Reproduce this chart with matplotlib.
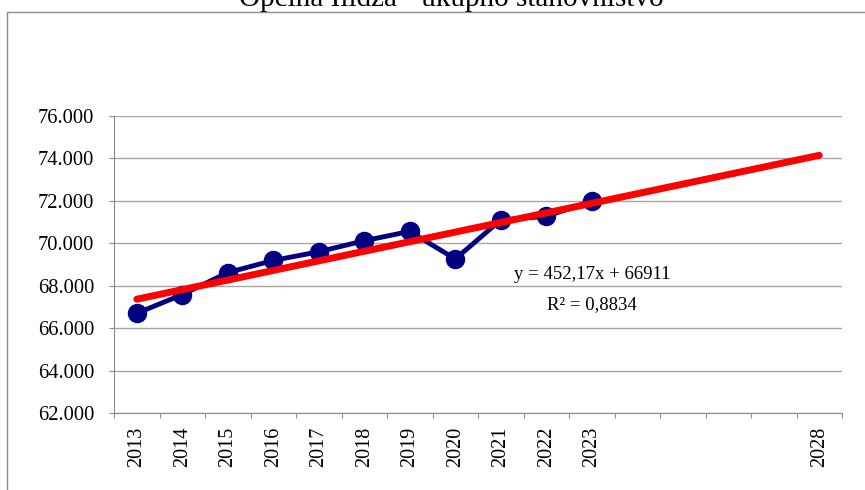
import matplotlib.pyplot as plt
from matplotlib.patches import Rectangle
from matplotlib.ticker import FuncFormatter

plt.rcParams['font.family'] = ['Liberation Serif', 'DejaVu Serif']

# data
years = ["2013", "2014", "2015", "2016", "2017", "2018", "2019", "2020",
         "2021", "2022", "2023", "", "", "", "", "2028"]
population = [66700, 67580, 68620, 69190, 69600, 70120, 70560, 69260,
              71100, 71270, 71990]
slope = 452.17
intercept = 66911
r2 = "0,8834"

fig = plt.figure(figsize=(8.65, 4.9), dpi=100)
ax = fig.add_axes([114 / 865, 77 / 490, 728 / 865, 297 / 490])

# chart area border
fig.patches.append(Rectangle((7 / 865, -0.1), 1.0, (490 - 12) / 490 + 0.1,
                             transform=fig.transFigure, fill=False,
                             edgecolor='#8c8c8c', linewidth=1.0))

fig.text(451 / 865, (490 - 6) / 490, "Općina Ilidža - ukupno stanovništvo",
         ha='center', va='baseline', fontsize=21, color='black')

xs = list(range(len(population)))
ax.plot(xs, population, color='#000080', linewidth=3.5, marker='o',
        markersize=13, zorder=3)

trend_x = list(range(len(years)))
trend_y = [slope * (i + 1) + intercept for i in trend_x]
ax.plot(trend_x, trend_y, color='#ff0000', linewidth=5, solid_capstyle='round',
        zorder=4)

# equation label, placed in pixels from the bottom-left
ax.text(592, 490 - 274, "y = 452,17x + 66911", transform=None, fontsize=13.5,
        ha='center', va='center')
ax.text(592, 490 - 305, "R² = " + r2, transform=None, fontsize=13.5,
        ha='center', va='center')

ax.set_ylim(62000, 76000)
ax.set_xlim(-0.5, len(years) - 0.5)
ax.set_yticks(range(62000, 76001, 2000))
ax.yaxis.set_major_formatter(FuncFormatter(lambda v, p: f"{int(v):,}".replace(",", ".")))
ax.grid(axis='y', color='#a6a6a6', linewidth=1.0)
ax.set_axisbelow(True)

ax.set_xticks([i - 0.5 for i in range(len(years) + 1)])
ax.set_xticklabels([])
ax.set_xticks(range(len(years)), minor=True)
ax.set_xticklabels(years, minor=True, rotation=90, fontsize=14.5)
ax.tick_params(axis='x', which='minor', length=0, pad=10)
ax.tick_params(axis='x', which='major', length=3.6, color='#8c8c8c')
ax.tick_params(axis='y', length=3.6, color='#8c8c8c', labelsize=14.8, pad=10.5)

for side in ['top', 'right']:
    ax.spines[side].set_visible(False)
for side in ['left', 'bottom']:
    ax.spines[side].set_color('#8c8c8c')

fig.savefig('out.png', dpi=100)
